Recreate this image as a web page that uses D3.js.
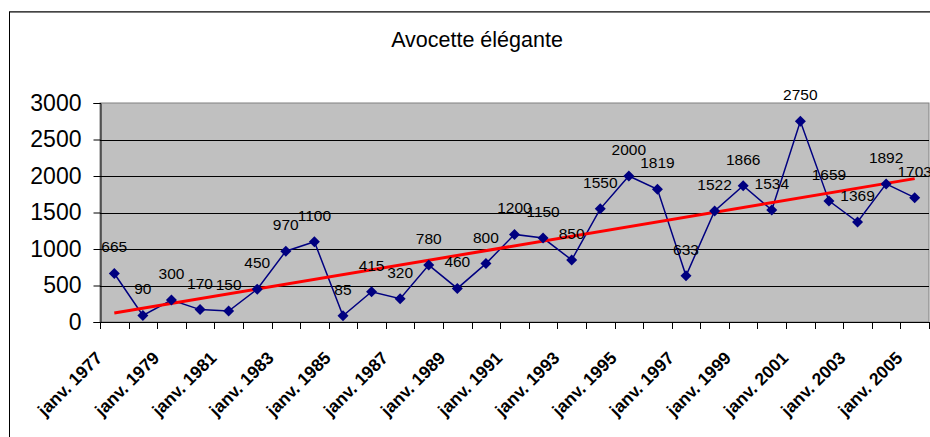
<!DOCTYPE html>
<html>
<head>
<meta charset="utf-8">
<script src="https://cdn.jsdelivr.net/npm/d3@7"></script>
<style>
  body { margin: 0; background: #fff; }
  svg { display: block; font-family: "Liberation Sans", Arial, sans-serif; }
</style>
</head>
<body>
<div id="chart"></div>
<script>
// counts per year
var years = [1977, 1978, 1979, 1980, 1981, 1982, 1983, 1984, 1985, 1986,
  1987, 1988, 1989, 1990, 1991, 1992, 1993, 1994, 1995, 1996,
  1997, 1998, 1999, 2000, 2001, 2002, 2003, 2004, 2005];
var counts = [665, 90, 300, 170, 150, 450, 970, 1100, 85, 415,
  320, 780, 460, 800, 1200, 1150, 850, 1550, 2000, 1819,
  633, 1522, 1866, 1534, 2750, 1659, 1369, 1892, 1703];
var yTicks = [0, 500, 1000, 1500, 2000, 2500, 3000];
var labelYears = [1977, 1979, 1981, 1983, 1985, 1987, 1989, 1991, 1993,
  1995, 1997, 1999, 2001, 2003, 2005];
var title = "Avocette élégante";

var width = 930, height = 437;
var plot = { left: 100, top: 103, right: 929, bottom: 322 };

var svg = d3.select("#chart").append("svg")
  .attr("width", width)
  .attr("height", height);

// outer chart frame
svg.append("rect")
  .attr("x", 9.5).attr("y", 12)
  .attr("width", 940).attr("height", 440)
  .style("fill", "#fff")
  .style("stroke", "#000")
  .style("stroke-width", 1);
svg.append("line")
  .attr("x1", 9).attr("x2", 930)
  .attr("y1", 11.5).attr("y2", 11.5)
  .style("stroke", "#444").style("stroke-width", 1);

svg.append("text")
  .attr("x", 477).attr("y", 47)
  .attr("text-anchor", "middle")
  .style("font-size", "21.5px")
  .text(title);

var x = d3.scaleBand()
  .domain(years)
  .range([plot.left, plot.right]);

var y = d3.scaleLinear()
  .domain([0, 3000])
  .range([plot.bottom, plot.top]);

// plot area
svg.append("rect")
  .attr("x", plot.left).attr("y", plot.top)
  .attr("width", plot.right - plot.left)
  .attr("height", plot.bottom - plot.top)
  .style("fill", "#c0c0c0")
  .style("stroke", "#808080");

// gridlines
svg.append("g").selectAll("line")
  .data(yTicks.filter(function (d) { return d > 0 && d < 3000; }))
  .enter().append("line")
  .attr("x1", plot.left).attr("x2", plot.right)
  .attr("y1", function (d) { return Math.round(y(d)) + 0.5; })
  .attr("y2", function (d) { return Math.round(y(d)) + 0.5; })
  .style("stroke", "#000");

// y axis
var yAxis = svg.append("g")
  .attr("transform", "translate(" + (plot.left + 0.5) + ",0)")
  .call(d3.axisLeft(y).tickValues(yTicks).tickFormat(d3.format("d"))
    .tickSize(7).tickPadding(12));
yAxis.select(".domain").style("stroke", "#000");
yAxis.selectAll(".tick line").style("stroke", "#000");
yAxis.selectAll(".tick text")
  .style("font-size", "23px")
  .style("font-family", "'Liberation Sans', Arial, sans-serif")
  .attr("fill", "#000");

// x axis: line + ticks at category boundaries
svg.append("line")
  .attr("x1", plot.left).attr("x2", plot.right)
  .attr("y1", plot.bottom + 0.5).attr("y2", plot.bottom + 0.5)
  .style("stroke", "#000");
var bounds = years.map(function (d) { return x(d); }).concat([x(years[years.length - 1]) + x.step()]);
svg.append("g").selectAll("line")
  .data(bounds)
  .enter().append("line")
  .attr("x1", function (d) { return Math.round(d) + 0.5; })
  .attr("x2", function (d) { return Math.round(d) + 0.5; })
  .attr("y1", plot.bottom).attr("y2", plot.bottom + 7)
  .style("stroke", "#000");

svg.append("g").selectAll("text")
  .data(labelYears)
  .enter().append("text")
  .attr("transform", function (d) {
    var cx = x(d) + x.bandwidth() / 2;
    return "translate(" + (cx - 11) + "," + (plot.bottom + 37) + ") rotate(-45)";
  })
  .attr("text-anchor", "end")
  .style("font-size", "17.5px")
  .style("font-weight", "bold")
  .text(function (d) { return "janv. " + d; });

// linear trend
var n = years.length;
var mx = d3.mean(d3.range(n)), my = d3.mean(counts);
var sxy = d3.sum(d3.range(n), function (i) { return (i - mx) * (counts[i] - my); });
var sxx = d3.sum(d3.range(n), function (i) { return (i - mx) * (i - mx); });
var slope = sxy / sxx, icpt = my - slope * mx;

var cxOf = function (i) { return x(years[i]) + x.bandwidth() / 2; };

// series
var line = d3.line()
  .x(function (d, i) { return cxOf(i); })
  .y(function (d) { return y(d); });
svg.append("path")
  .datum(counts)
  .attr("d", line)
  .style("fill", "none")
  .style("stroke", "#000080")
  .style("stroke-width", 1.5);

svg.append("line")
  .attr("x1", cxOf(0)).attr("y1", y(icpt))
  .attr("x2", cxOf(n - 1)).attr("y2", y(icpt + slope * (n - 1)))
  .style("stroke", "#ff0000")
  .style("stroke-width", 3);

svg.append("g").selectAll("path")
  .data(counts)
  .enter().append("path")
  .attr("d", "M0,-5.5L5.5,0L0,5.5L-5.5,0Z")
  .attr("transform", function (d, i) { return "translate(" + cxOf(i) + "," + y(d) + ")"; })
  .style("fill", "#000080");

// data labels
svg.append("g").selectAll("text")
  .data(counts)
  .enter().append("text")
  .attr("x", function (d, i) { return cxOf(i); })
  .attr("y", function (d) { return y(d) - 21; })
  .attr("text-anchor", "middle")
  .style("font-size", "15.5px")
  .text(function (d) { return d; });
</script>
</body>
</html>
